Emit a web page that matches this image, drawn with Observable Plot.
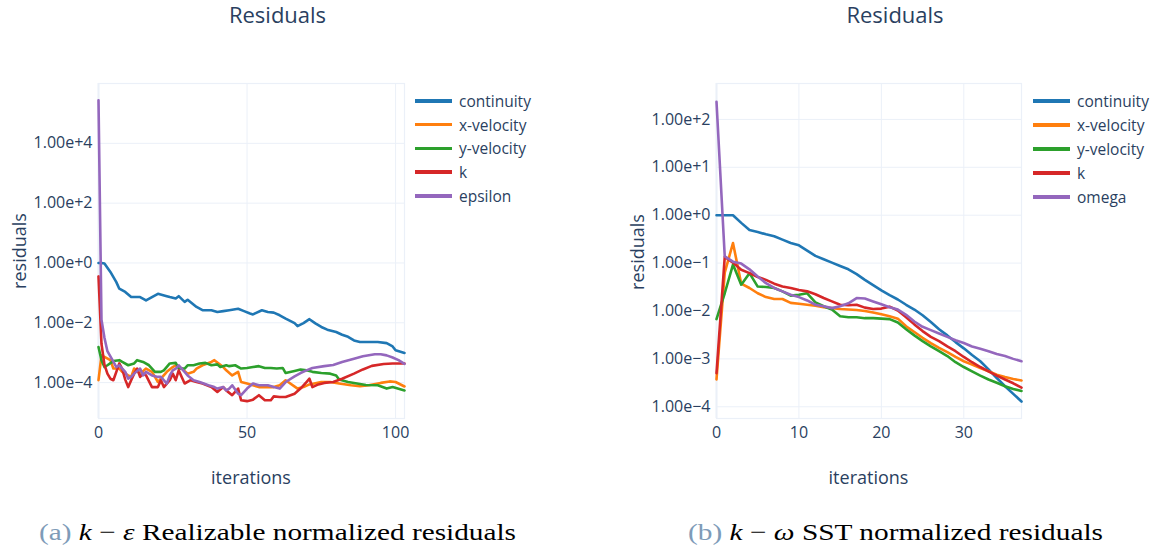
<!DOCTYPE html>
<html><head><meta charset="utf-8">
<script src="https://cdn.jsdelivr.net/npm/d3@7"></script>
<script src="https://cdn.jsdelivr.net/npm/@observablehq/plot@0.6"></script>
<style>
body{margin:0;background:#fff;}
#root{position:relative;width:1167px;height:551px;overflow:hidden;font-family:"Open Sans",sans-serif;color:#2a3f5f;background:#fff;}
.abs{position:absolute;white-space:nowrap;}
.ctr{transform:translate(-50%,-50%);}
.title{font-size:22px;}
.atitle{font-size:18px;}
.leg{font-size:15.5px;}
.legline{position:absolute;height:3.5px;width:37px;}
.cap{font-family:"Liberation Serif","DejaVu Serif",serif;font-size:24px;color:#000;transform-origin:0 50%;}
.cap .lab{color:#7e9bb8;}
</style>
</head><body>
<div id="root"></div>
<script>
// ---------- data (values are log10 of the residual) ----------
const seriesA = ["continuity", "x-velocity", "y-velocity", "k", "epsilon"];
const seriesB = ["continuity", "x-velocity", "y-velocity", "k", "omega"];
const colors = ["#1f77b4", "#ff7f0e", "#2ca02c", "#d62728", "#9467bd"];

const xTicksA = [0, 50, 100];
const xTicksB = [0, 10, 20, 30];
const yTicksA = [1e-4, 1e-2, 1e0, 1e2, 1e4];
const yTicksB = [1e-4, 1e-3, 1e-2, 1e-1, 1e0, 1e1, 1e2];

// panel (a): [iteration, log10(residual)]
const continuityA = [[0,0],[1,0],[2,-0.02],[4,-0.30],[6,-0.64],[7,-0.86],[9,-0.97],[11,-1.14],[12,-1.14],[14,-1.14],[16,-1.25],[18,-1.14],[20,-1.03],[23,-1.11],[24,-1.14],[26,-1.19],[27,-1.11],[29,-1.30],[30,-1.23],[33,-1.47],[35,-1.58],[38,-1.58],[40,-1.64],[42,-1.61],[44,-1.58],[47,-1.53],[49,-1.61],[51,-1.69],[52,-1.72],[55,-1.58],[57,-1.64],[59,-1.66],[61,-1.75],[63,-1.86],[66,-2.01],[67,-2.11],[69,-2.01],[71,-1.88],[73,-2.02],[75,-2.14],[77,-2.23],[80,-2.31],[82,-2.40],[84,-2.47],[86,-2.59],[88,-2.64],[90,-2.64],[94,-2.64],[97,-2.68],[99,-2.79],[100,-2.92],[103,-3.01]];
const xVelocityA = [[0,-3.92],[1,-3.09],[2,-3.14],[4,-3.25],[5,-3.53],[7,-3.53],[8,-3.64],[10,-3.76],[11,-3.81],[12,-3.53],[14,-3.70],[16,-3.53],[18,-3.64],[19,-3.81],[20,-3.98],[21,-3.87],[23,-3.64],[25,-3.48],[26,-3.42],[28,-3.53],[30,-3.70],[32,-3.64],[33,-3.53],[35,-3.42],[38,-3.31],[39,-3.25],[42,-3.48],[43,-3.59],[45,-3.76],[47,-3.64],[48,-3.98],[50,-4.03],[52,-4.09],[54,-4.15],[57,-4.15],[59,-4.15],[61,-4.09],[63,-3.92],[67,-4.20],[69,-4.15],[71,-4.06],[75,-3.98],[78,-3.98],[81,-4.03],[85,-4.09],[88,-4.12],[91,-4.09],[95,-4.01],[98,-3.96],[100,-3.98],[103,-4.13]];
const yVelocityA = [[0,-2.81],[1,-3.25],[2,-3.48],[3,-3.42],[5,-3.28],[7,-3.25],[8,-3.31],[10,-3.42],[12,-3.36],[13,-3.25],[15,-3.31],[17,-3.42],[19,-3.64],[21,-3.64],[22,-3.59],[24,-3.36],[26,-3.34],[27,-3.53],[29,-3.53],[30,-3.42],[32,-3.42],[34,-3.36],[36,-3.34],[38,-3.42],[40,-3.39],[41,-3.48],[43,-3.42],[44,-3.45],[46,-3.42],[48,-3.53],[50,-3.51],[52,-3.48],[54,-3.45],[56,-3.51],[58,-3.51],[60,-3.53],[62,-3.51],[63,-3.68],[66,-3.61],[68,-3.56],[70,-3.59],[72,-3.64],[75,-3.68],[78,-3.70],[80,-3.76],[81,-3.90],[84,-3.98],[87,-4.03],[90,-4.08],[94,-4.09],[97,-4.20],[99,-4.15],[103,-4.26]];
const kA = [[0,-0.45],[1,-2.7],[2,-3.4],[3,-3.70],[4,-3.87],[5,-3.92],[6,-3.64],[7,-3.36],[8,-3.55],[9,-3.90],[10,-4.15],[11,-3.92],[12,-3.70],[13,-3.53],[14,-3.81],[15,-3.70],[16,-3.76],[18,-4.15],[20,-4.15],[21,-3.92],[22,-4.15],[24,-3.92],[25,-3.70],[26,-3.92],[27,-3.59],[28,-3.81],[29,-4.03],[31,-3.92],[33,-3.98],[35,-4.03],[38,-4.15],[40,-4.31],[42,-4.15],[43,-4.26],[45,-4.42],[47,-4.20],[48,-4.59],[50,-4.62],[52,-4.57],[54,-4.42],[56,-4.59],[58,-4.59],[59,-4.46],[61,-4.48],[63,-4.48],[66,-4.37],[68,-4.20],[70,-3.98],[71,-3.87],[72,-4.15],[74,-4.06],[76,-4.01],[79,-3.98],[82,-3.87],[86,-3.70],[89,-3.56],[92,-3.44],[96,-3.38],[99,-3.36],[103,-3.36]];
const epsilonA = [[0,5.44],[1,-1.9],[2,-2.5],[3,-2.95],[5,-3.30],[6,-3.48],[7,-3.42],[8,-3.53],[9,-3.64],[10,-3.87],[11,-3.81],[12,-3.70],[14,-3.53],[15,-3.76],[16,-3.64],[17,-3.70],[18,-3.76],[20,-3.81],[21,-3.81],[23,-4.03],[24,-3.76],[25,-3.59],[26,-3.53],[27,-3.42],[28,-3.53],[30,-3.76],[32,-3.92],[34,-3.98],[37,-4.09],[39,-4.15],[40,-4.20],[42,-4.15],[43,-4.26],[44,-4.20],[45,-4.09],[47,-4.37],[48,-4.42],[50,-4.20],[52,-4.03],[54,-4.09],[57,-4.09],[59,-4.15],[61,-4.20],[63,-3.98],[66,-3.79],[68,-3.68],[70,-3.59],[72,-3.51],[76,-3.45],[79,-3.41],[82,-3.31],[86,-3.20],[89,-3.12],[93,-3.05],[95,-3.05],[97,-3.09],[99,-3.16],[101,-3.25],[103,-3.37]];

// panel (b): one value per iteration 0..37, log10(residual)
const iterationsB = [0,1,2,3,4,5,6,7,8,9,10,11,12,13,14,15,16,17,18,19,20,21,22,23,24,25,26,27,28,29,30,31,32,33,34,35,36,37];
const continuityB = [0,0,0,-0.16,-0.31,-0.35,-0.40,-0.44,-0.51,-0.58,-0.63,-0.74,-0.85,-0.92,-0.99,-1.06,-1.13,-1.23,-1.35,-1.46,-1.57,-1.67,-1.76,-1.87,-1.97,-2.09,-2.23,-2.38,-2.51,-2.65,-2.78,-2.92,-3.05,-3.22,-3.40,-3.57,-3.73,-3.89];
const xVelocityB = [-3.43,-1.2,-0.58,-1.43,-1.52,-1.63,-1.71,-1.75,-1.75,-1.83,-1.85,-1.87,-1.89,-1.92,-1.94,-1.96,-1.97,-1.98,-2.0,-2.03,-2.07,-2.11,-2.16,-2.32,-2.44,-2.56,-2.67,-2.77,-2.86,-2.96,-3.05,-3.12,-3.19,-3.26,-3.33,-3.38,-3.42,-3.45];
const yVelocityB = [-2.17,-1.63,-1.03,-1.45,-1.21,-1.49,-1.50,-1.52,-1.59,-1.68,-1.66,-1.63,-1.82,-1.90,-1.97,-2.11,-2.13,-2.13,-2.15,-2.15,-2.16,-2.17,-2.24,-2.38,-2.51,-2.63,-2.74,-2.84,-2.94,-3.07,-3.17,-3.26,-3.35,-3.43,-3.50,-3.57,-3.63,-3.67];
const kB = [-3.3,-0.87,-0.99,-1.14,-1.21,-1.29,-1.35,-1.43,-1.49,-1.52,-1.56,-1.59,-1.65,-1.73,-1.80,-1.87,-1.88,-1.87,-1.93,-1.96,-1.95,-1.91,-1.99,-2.13,-2.28,-2.42,-2.54,-2.63,-2.74,-2.84,-2.96,-3.07,-3.17,-3.26,-3.35,-3.43,-3.51,-3.60];
const omegaB = [2.37,-0.86,-0.97,-1.01,-1.13,-1.28,-1.42,-1.52,-1.59,-1.66,-1.71,-1.78,-1.87,-1.90,-1.94,-1.90,-1.84,-1.73,-1.74,-1.80,-1.86,-1.92,-1.97,-2.08,-2.22,-2.33,-2.40,-2.47,-2.54,-2.61,-2.67,-2.74,-2.79,-2.84,-2.90,-2.94,-3.00,-3.05];

const captionA = ["(a)", "k", "ε", "Realizable normalized residuals"];
const captionB = ["(b)", "k", "ω", "SST normalized residuals"];

// ---------- helpers ----------
const root = document.getElementById("root");
const fmt = d => {
  const e = Math.round(Math.log10(d));
  return "1.00e" + (e >= 0 ? "+" + e : "\u2212" + (-e));
};
const rowsFromPairs = pairs => pairs.map(([it, e]) => ({it, v: Math.pow(10, e)}));
const rowsFromValues = vals => vals.map((e, i) => ({it: iterationsB[i], v: Math.pow(10, e)}));

function panel({width, left, marginLeft, marginRight, xDomain, yDomain, xTicks, yTicks, series}) {
  const grid = "#EBF0F8";
  const svg = Plot.plot({
    width, height: 500,
    marginLeft, marginRight, marginTop: 83, marginBottom: 82,
    style: {fontFamily: "Open Sans, sans-serif", fontSize: "16px", color: "#2a3f5f", background: "transparent", overflow: "visible"},
    x: {domain: xDomain, ticks: xTicks, tickFormat: d => String(d), tickSize: 0, tickPadding: 8, label: null},
    y: {type: "log", domain: yDomain, ticks: yTicks, tickFormat: fmt, tickSize: 0, tickPadding: 6, label: null},
    marks: [
      Plot.ruleY(yTicks, {stroke: grid, strokeWidth: 1}),
      Plot.ruleX(xTicks.filter(d => d !== 0), {stroke: grid, strokeWidth: 1}),
      Plot.frame({stroke: grid, strokeWidth: 1.2}),
      Plot.ruleX([0], {stroke: grid, strokeWidth: 2}),
      ...series.map((rows, i) => Plot.line(rows, {x: "it", y: "v", stroke: colors[i], strokeWidth: 2.6, strokeLinejoin: "round", strokeLinecap: "round"}))
    ]
  });
  svg.style.position = "absolute";
  svg.style.left = left + "px";
  svg.style.top = "0px";
  root.appendChild(svg);
}

function text(str, x, y, cls, extra = "") {
  const d = document.createElement("div");
  d.className = "abs ctr " + cls;
  d.style.left = x + "px"; d.style.top = y + "px";
  if (extra) d.style.transform = "translate(-50%,-50%) " + extra;
  d.textContent = str;
  root.appendChild(d);
}

function legend(names, lineX, textX, y0, step) {
  names.forEach((n, i) => {
    const y = y0 + i * step;
    const l = document.createElement("div");
    l.className = "legline";
    l.style.left = lineX + "px"; l.style.top = (y - 1.75) + "px"; l.style.background = colors[i];
    root.appendChild(l);
    const t = document.createElement("div");
    t.className = "abs leg";
    t.style.left = textX + "px"; t.style.top = y + "px"; t.style.transform = "translateY(-50%)";
    t.textContent = n;
    root.appendChild(t);
  });
}

function caption(parts, x0, x1, midY) {
  const d = document.createElement("div");
  d.className = "abs cap";
  d.style.left = x0 + "px";
  const lab = document.createElement("span"); lab.className = "lab"; lab.textContent = parts[0];
  d.appendChild(lab);
  d.appendChild(document.createTextNode(" "));
  const k = document.createElement("i"); k.textContent = parts[1]; d.appendChild(k);
  d.appendChild(document.createTextNode(" \u2212 "));
  const g = document.createElement("i"); g.textContent = parts[2]; d.appendChild(g);
  d.appendChild(document.createTextNode(" " + parts[3]));
  root.appendChild(d);
  const w = d.getBoundingClientRect().width, h = d.getBoundingClientRect().height;
  d.style.top = (midY - h / 2) + "px";
  d.style.transform = "scaleX(" + ((x1 - x0) / w) + ")";
}

// ---------- panel (a) ----------
panel({
  width: 583, left: 0, marginLeft: 98, marginRight: 583 - 404,
  xDomain: [0, 103], yDomain: [Math.pow(10, -5.2), 1e6],
  xTicks: xTicksA, yTicks: yTicksA,
  series: [continuityA, xVelocityA, yVelocityA, kA, epsilonA].map(rowsFromPairs)
});
// ---------- panel (b) ----------
panel({
  width: 584, left: 583, marginLeft: 716 - 583, marginRight: 583 + 584 - 1021,
  xDomain: [0, 37], yDomain: [Math.pow(10, -4.245), Math.pow(10, 2.75)],
  xTicks: xTicksB, yTicks: yTicksB,
  series: [continuityB, xVelocityB, yVelocityB, kB, omegaB].map(rowsFromValues)
});

text("Residuals", 277.5, 14, "title");
text("Residuals", 895, 14, "title");
text("residuals", 19, 251, "atitle", "rotate(-90deg)");
text("residuals", 637, 252, "atitle", "rotate(-90deg)");
text("iterations", 251, 477, "atitle");
text("iterations", 868.5, 477, "atitle");
legend(seriesA, 415, 459, 101, 23.7);
legend(seriesB, 1033, 1077, 101, 24);
caption(captionA, 39, 516, 532);
caption(captionB, 688, 1103, 532);
</script>
</body></html>
